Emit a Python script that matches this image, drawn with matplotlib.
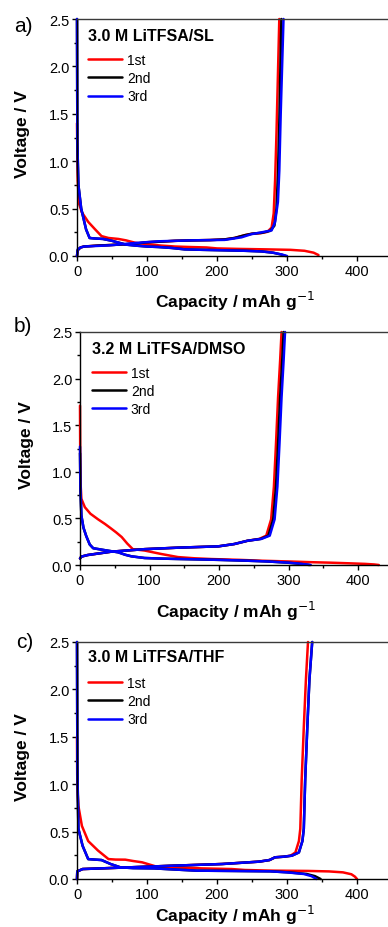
"""
Galvanostatic charge/discharge curves, three electrolytes, first three cycles.
"""
import matplotlib
matplotlib.use("Agg")
import matplotlib.pyplot as plt
from matplotlib.ticker import MultipleLocator

plt.rcParams.update({
    "font.family": ["Liberation Sans", "DejaVu Sans"],
    "font.size": 10.5,
    "axes.linewidth": 1.0,
    "xtick.direction": "out",
    "ytick.direction": "out",
})

cycle_labels = ["1st", "2nd", "3rd"]
cycle_colors = ["#ff0000", "#000000", "#0000ff"]
panel_titles = ["3.0 M LiTFSA/SL", "3.2 M LiTFSA/DMSO", "3.0 M LiTFSA/THF"]
panel_tags = ["a)", "b)", "c)"]

# ---- a) 3.0 M LiTFSA/SL ----
sl_red_dis_cap = [0, 1, 3, 7, 16, 26, 35, 45, 59, 70, 83, 100, 120, 140, 160, 185, 200, 230, 270, 305, 325, 338, 345]
sl_red_dis_v = [1.40, 0.80, 0.55, 0.46, 0.36, 0.28, 0.21, 0.19, 0.18, 0.165, 0.14, 0.125, 0.11, 0.10, 0.095, 0.09, 0.08, 0.075, 0.07, 0.065, 0.055, 0.035, 0.01]
sl_red_chg_cap = [0, 1, 5, 10, 30, 60, 83, 100, 116, 140, 164, 190, 211, 225, 240, 250, 262, 272, 278, 281, 283, 285, 287, 289]
sl_red_chg_v = [0.0, 0.06, 0.09, 0.10, 0.11, 0.12, 0.13, 0.145, 0.15, 0.16, 0.165, 0.168, 0.175, 0.19, 0.22, 0.235, 0.24, 0.255, 0.30, 0.45, 0.80, 1.30, 1.90, 2.50]
sl_blk_dis_cap = [0, 0.5, 2, 6, 13, 18, 25, 37, 50, 60, 70, 83, 100, 116, 135, 154, 180, 211, 240, 264, 280, 292, 298]
sl_blk_dis_v = [2.5, 1.2, 0.75, 0.5, 0.28, 0.19, 0.185, 0.18, 0.16, 0.14, 0.12, 0.11, 0.10, 0.095, 0.085, 0.07, 0.065, 0.06, 0.055, 0.048, 0.035, 0.015, 0.0]
sl_blk_chg_cap = [0, 1, 5, 10, 30, 60, 83, 100, 116, 140, 164, 190, 211, 225, 240, 250, 264, 276, 282, 285, 287, 289, 290.5, 292]
sl_blk_chg_v = [0.0, 0.06, 0.09, 0.10, 0.11, 0.12, 0.13, 0.145, 0.15, 0.16, 0.165, 0.168, 0.175, 0.19, 0.22, 0.235, 0.245, 0.265, 0.32, 0.50, 0.85, 1.40, 1.95, 2.50]
sl_blu_dis_cap = [0, 0.5, 2, 6, 13, 18, 25, 37, 50, 60, 70, 83, 100, 116, 135, 154, 180, 211, 240, 264, 280, 293, 300]
sl_blu_dis_v = [2.5, 1.2, 0.75, 0.5, 0.28, 0.19, 0.185, 0.18, 0.16, 0.14, 0.12, 0.11, 0.10, 0.095, 0.085, 0.07, 0.065, 0.06, 0.055, 0.048, 0.035, 0.015, 0.0]
sl_blu_chg_cap = [0, 1, 5, 10, 46, 83, 116, 164, 211, 235, 249, 264, 278, 283, 287, 289, 291, 293, 295]
sl_blu_chg_v = [0.0, 0.07, 0.09, 0.10, 0.112, 0.137, 0.155, 0.165, 0.17, 0.197, 0.23, 0.25, 0.27, 0.36, 0.57, 0.90, 1.50, 2.00, 2.50]

# ---- b) 3.2 M LiTFSA/DMSO ----
dm_red_dis_cap = [0, 0.3, 1, 2, 7, 15, 26, 36, 45, 52, 60, 68, 76, 93, 117, 141, 165, 189, 230, 261, 300, 333, 360, 388, 410, 423, 430]
dm_red_dis_v = [1.71, 1.2, 0.85, 0.71, 0.62, 0.55, 0.49, 0.44, 0.39, 0.35, 0.30, 0.23, 0.17, 0.155, 0.118, 0.085, 0.072, 0.064, 0.055, 0.046, 0.038, 0.03, 0.025, 0.018, 0.012, 0.006, 0.0]
dm_red_chg_cap = [0, 2, 11, 45, 93, 141, 199, 222, 241, 258, 268, 275, 279, 282, 285, 288, 290]
dm_red_chg_v = [0.07, 0.09, 0.107, 0.143, 0.17, 0.186, 0.20, 0.225, 0.26, 0.28, 0.315, 0.49, 0.84, 1.30, 1.80, 2.20, 2.50]
dm_blk_dis_cap = [0, 0.5, 2, 5, 9, 14, 19, 35, 55, 65, 74, 93, 120, 165, 200, 237, 270, 298, 313, 324, 330]
dm_blk_dis_v = [1.20, 0.85, 0.53, 0.40, 0.31, 0.22, 0.18, 0.16, 0.136, 0.11, 0.093, 0.075, 0.068, 0.061, 0.055, 0.047, 0.038, 0.025, 0.015, 0.006, 0.0]
dm_blk_chg_cap = [0, 2, 11, 45, 93, 141, 199, 222, 241, 260, 271, 278, 282, 285, 288, 291, 293]
dm_blk_chg_v = [0.07, 0.09, 0.107, 0.143, 0.17, 0.186, 0.20, 0.225, 0.26, 0.28, 0.315, 0.49, 0.84, 1.30, 1.80, 2.20, 2.50]
dm_blu_dis_cap = [0, 0.5, 2, 5, 9, 14, 19, 35, 55, 65, 74, 93, 120, 165, 200, 237, 270, 300, 315, 326, 332]
dm_blu_dis_v = [1.27, 0.85, 0.53, 0.40, 0.31, 0.22, 0.18, 0.16, 0.136, 0.11, 0.093, 0.075, 0.068, 0.061, 0.055, 0.047, 0.038, 0.025, 0.015, 0.006, 0.0]
dm_blu_chg_cap = [0, 2, 11, 45, 93, 141, 199, 222, 241, 261, 273, 280, 284, 287, 290, 293, 295]
dm_blu_chg_v = [0.07, 0.09, 0.107, 0.143, 0.17, 0.186, 0.20, 0.225, 0.26, 0.28, 0.315, 0.49, 0.84, 1.30, 1.80, 2.20, 2.50]

# ---- c) 3.0 M LiTFSA/THF ----
th_red_dis_cap = [0, 0.3, 1, 2, 7, 16, 30, 45, 55, 69, 80, 93, 112, 140, 178, 221, 240, 280, 330, 360, 380, 392, 397, 400]
th_red_dis_v = [1.50, 1.10, 0.90, 0.77, 0.56, 0.40, 0.30, 0.21, 0.205, 0.204, 0.19, 0.176, 0.134, 0.123, 0.112, 0.105, 0.095, 0.088, 0.085, 0.08, 0.07, 0.05, 0.025, 0.0]
th_red_chg_cap = [0, 0.4, 8, 64, 136, 207, 260, 275, 283, 295, 305, 312, 317, 319, 321, 324, 327, 330]
th_red_chg_v = [0.0, 0.08, 0.105, 0.12, 0.14, 0.158, 0.183, 0.20, 0.229, 0.235, 0.246, 0.28, 0.40, 0.53, 1.05, 1.60, 2.10, 2.50]
th_blk_dis_cap = [0, 0.5, 2, 8, 16, 25, 35, 48, 62, 80, 110, 140, 171, 220, 276, 302, 328, 340, 348]
th_blk_dis_v = [2.5, 1.2, 0.53, 0.35, 0.21, 0.205, 0.20, 0.158, 0.123, 0.115, 0.112, 0.10, 0.088, 0.085, 0.081, 0.07, 0.053, 0.03, 0.0]
th_blk_chg_cap = [0, 0.4, 8, 64, 136, 207, 260, 275, 283, 295, 307, 317, 322, 324, 326, 329, 332, 336]
th_blk_chg_v = [0.0, 0.08, 0.105, 0.12, 0.14, 0.158, 0.183, 0.20, 0.229, 0.235, 0.246, 0.28, 0.40, 0.53, 1.05, 1.60, 2.10, 2.50]
th_blu_dis_cap = [0, 0.5, 2, 8, 16, 25, 35, 48, 62, 80, 110, 140, 171, 220, 276, 300, 324, 335, 342]
th_blu_dis_v = [2.5, 1.2, 0.53, 0.35, 0.21, 0.205, 0.20, 0.158, 0.123, 0.115, 0.112, 0.10, 0.088, 0.085, 0.081, 0.07, 0.053, 0.03, 0.0]
th_blu_chg_cap = [0, 0.4, 8, 64, 136, 207, 260, 275, 283, 295, 307, 317, 322, 324, 326, 329, 332, 336]
th_blu_chg_v = [0.0, 0.08, 0.105, 0.12, 0.14, 0.158, 0.183, 0.20, 0.229, 0.235, 0.246, 0.28, 0.40, 0.53, 1.05, 1.60, 2.10, 2.50]

panels = [
    [(sl_red_dis_cap, sl_red_dis_v, sl_red_chg_cap, sl_red_chg_v),
     (sl_blk_dis_cap, sl_blk_dis_v, sl_blk_chg_cap, sl_blk_chg_v),
     (sl_blu_dis_cap, sl_blu_dis_v, sl_blu_chg_cap, sl_blu_chg_v)],
    [(dm_red_dis_cap, dm_red_dis_v, dm_red_chg_cap, dm_red_chg_v),
     (dm_blk_dis_cap, dm_blk_dis_v, dm_blk_chg_cap, dm_blk_chg_v),
     (dm_blu_dis_cap, dm_blu_dis_v, dm_blu_chg_cap, dm_blu_chg_v)],
    [(th_red_dis_cap, th_red_dis_v, th_red_chg_cap, th_red_chg_v),
     (th_blk_dis_cap, th_blk_dis_v, th_blk_chg_cap, th_blk_chg_v),
     (th_blu_dis_cap, th_blu_dis_v, th_blu_chg_cap, th_blu_chg_v)],
]

W, H = 388, 928
fig = plt.figure(figsize=(W / 100, H / 100), dpi=100)

# axes boxes in pixels: x0, y_top(2.5 V), y_bottom(0 V), px per 100 mAh/g
boxes = [(77, 20, 257, 70.0), (80, 333, 566, 69.5), (77, 643, 880, 70.0)]
tag_pos = [(23, 27), (23, 327), (25, 643)]
title_x = [0.035, 0.038, 0.035]
title_y = [0.93, 0.93, 0.938]
xlab_y = [-0.14, -0.145, -0.1]

for k, (x0, yt, yb, ppc) in enumerate(boxes):
    xmax = 450
    ax = fig.add_axes([x0 / W, 1 - yb / H, xmax / 100 * ppc / W, (yb - yt) / H])
    for (dc, dv, cc, cv), col, lab in zip(panels[k], cycle_colors, cycle_labels):
        ax.plot(dc, dv, color=col, lw=1.8, clip_on=False, solid_joinstyle="round",
                solid_capstyle="round", label=lab)
        ax.plot(cc, cv, color=col, lw=1.8, clip_on=False, solid_joinstyle="round",
                solid_capstyle="round")

    ax.set_xlim(0, xmax)
    ax.set_ylim(0, 2.5)
    ax.xaxis.set_major_locator(MultipleLocator(100))
    ax.xaxis.set_minor_locator(MultipleLocator(50))
    ax.yaxis.set_major_locator(MultipleLocator(0.5))
    ax.yaxis.set_minor_locator(MultipleLocator(0.25))
    ax.yaxis.set_major_formatter(plt.FuncFormatter(lambda v, p: f"{v:.1f}"))
    ax.tick_params(which="major", length=3.5, width=1.0, labelsize=10.5, pad=2)
    ax.tick_params(which="minor", length=2.2, width=1.0)
    ax.tick_params(top=False, right=False)
    ax.spines["right"].set_visible(False)
    ax.spines["top"].set_color("#3a3a3a")

    ax.set_xlabel("Capacity / mAh g$^{-1}$", fontsize=12.5, fontweight="bold")
    ax.xaxis.set_label_coords(0.5, xlab_y[k])
    ax.set_ylabel("Voltage / V", fontsize=12.5, fontweight="bold")
    ax.yaxis.set_label_coords(-0.148, 0.52)

    ax.text(title_x[k], title_y[k], panel_titles[k], transform=ax.transAxes,
            fontsize=11.5, fontweight="bold", ha="left", va="center")
    ax.legend(loc="upper left", bbox_to_anchor=(title_x[k], 0.856), frameon=False,
              fontsize=10, handlelength=2.45, handletextpad=0.35, labelspacing=0.3,
              borderpad=0, borderaxespad=0)

    tx, ty = tag_pos[k]
    fig.text(tx / W, 1 - ty / H, panel_tags[k], fontsize=15, ha="center", va="center")

fig.savefig("out.png", dpi=100, facecolor="white")
